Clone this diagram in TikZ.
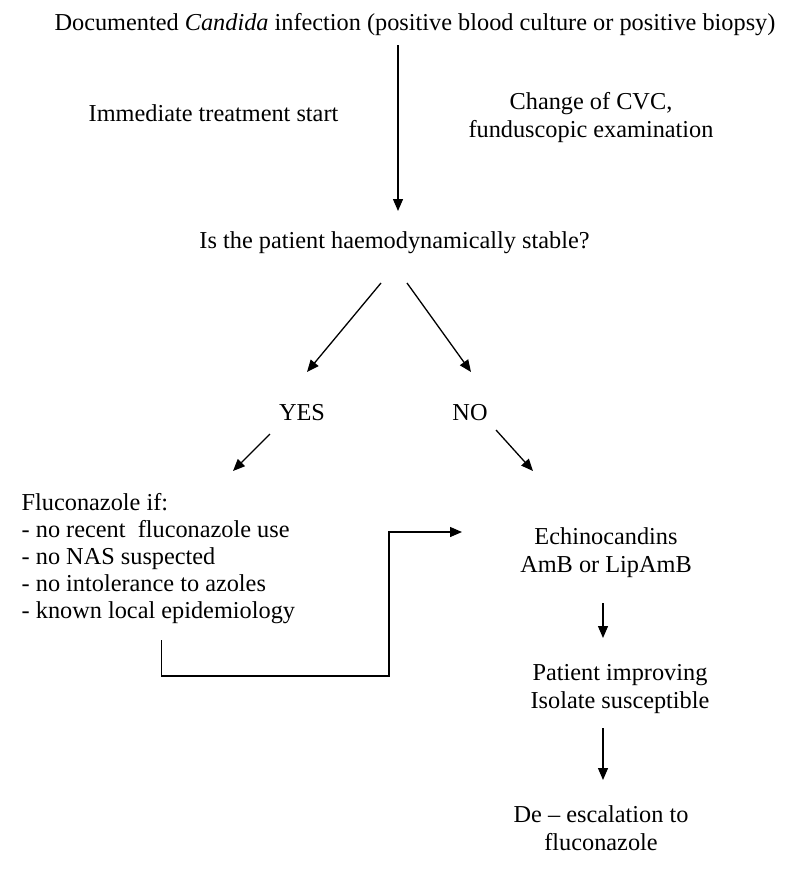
\documentclass[tikz,border=0pt]{standalone}
\usepackage{fontspec}
\setmainfont{Liberation Serif}
\usetikzlibrary{arrows.meta}
\begin{document}
\begin{tikzpicture}[x=1pt,y=-1pt,
  txt/.style={anchor=base,inner sep=0pt,font=\fontsize{24.3}{28}\selectfont,align=center},
  ltxt/.style={anchor=base west,inner sep=0pt,font=\fontsize{24.3}{27}\selectfont,align=left},
  arr/.style={draw=black,line width=1.3pt,-{Triangle[length=12pt,width=10pt]}},
  ln/.style={draw=black,line width=1.3pt}]
\useasboundingbox (0,0) rectangle (795,878);
\fill[white] (0,0) rectangle (795,878);
% texts (base anchor = baseline of the last line)
\node[txt] (title) at (415,30) {Documented \textit{Candida} infection (positive blood culture or positive biopsy)};
\node[txt] (imm) at (213.5,121) {Immediate treatment start};
\node[txt] (cvc) at (591,137) {Change of CVC,\\funduscopic examination};
\node[txt] (stable) at (394.5,248) {Is the patient haemodynamically stable?};
\node[txt] (yes) at (302,420) {YES};
\node[txt] (no) at (470,420) {NO};
\node[ltxt] (fluco) at (21.5,618) {Fluconazole if:\\- no recent \ fluconazole use\\- no NAS suspected\\- no intolerance to azoles\\- known local epidemiology};
\node[txt] (echino) at (606,572) {Echinocandins\\AmB or LipAmB};
\node[txt] (improv) at (620,708) {Patient improving\\Isolate susceptible};
\node[txt] (deesc) at (601,850) {De -- escalation to\\fluconazole};
% connector end points
\coordinate (t1) at (398,45);
\coordinate (s1) at (398,211);
\coordinate (sl) at (381,283);
\coordinate (yt) at (307,372);
\coordinate (sr) at (407,283);
\coordinate (nt) at (471,372);
\coordinate (yb) at (270,434);
\coordinate (ft) at (233,471);
\coordinate (nb) at (496,430);
\coordinate (et) at (533,471);
\coordinate (fb) at (161.5,640);
\coordinate (c1) at (161.5,676);
\coordinate (c2) at (389,676);
\coordinate (c3) at (389,532);
\coordinate (el) at (462,532);
\coordinate (eb) at (603,603);
\coordinate (it) at (603,638);
\coordinate (ib) at (603,728);
\coordinate (dt) at (603,780);
% connectors
\draw[arr] (t1) -- (s1);
\draw[arr] (sl) -- (yt);
\draw[arr] (sr) -- (nt);
\draw[arr] (yb) -- (ft);
\draw[arr] (nb) -- (et);
\draw[arr] (fb) -- (c1) -- (c2) -- (c3) -- (el);
\draw[arr] (eb) -- (it);
\draw[arr] (ib) -- (dt);
\end{tikzpicture}
\end{document}
